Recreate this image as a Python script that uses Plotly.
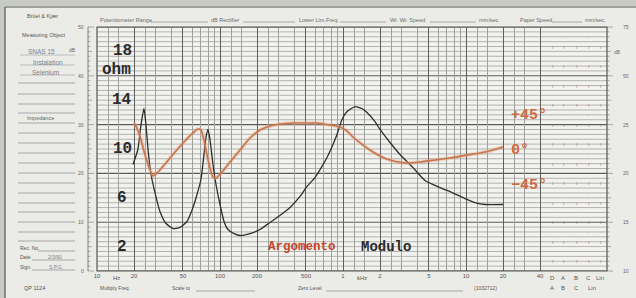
import plotly.graph_objects as go

# ---------------- data ----------------
mod_freq = [19.6, 21.5, 22.8, 24.1, 25.0, 26.0, 27.5, 29.6, 32.5, 36.4, 41.5, 47.3, 53.9, 60.3,
            65.0, 70.0, 74.1, 76.9, 79.9, 82.9, 87.7, 92.8, 100, 107.8, 116.2, 130, 145.4, 175.4,
            211.5, 255, 307, 371, 447, 510, 592, 675, 741, 829, 894, 981, 1078, 1252, 1427, 1567,
            1821, 2000, 2411, 2907, 3639, 4642, 6146, 7694, 9815, 11837, 14272, 20000]
mod_ohm = [8.73, 9.96, 12.0, 13.32, 12.0, 9.96, 7.91, 6.43, 4.88, 3.89, 3.48, 3.57, 4.06, 5.20,
           6.27, 7.5, 9.55, 10.94, 11.6, 10.78, 8.73, 7.09, 5.45, 4.06, 3.40, 3.07, 2.91, 3.07,
           3.40, 3.98, 4.55, 5.20, 6.11, 6.93, 7.66, 8.57, 9.30, 10.37, 11.19, 12.42, 13.07, 13.48,
           13.32, 12.99, 12.25, 11.6, 10.53, 9.55, 8.57, 7.42, 6.84, 6.43, 5.94, 5.61, 5.45, 5.45]

arg_freq = [20, 21.1, 22.8, 24.6, 27.0, 28.5, 31.3, 35.7, 43.1, 51.9, 60.3, 66.2, 70.0, 74.1,
            78.4, 82.9, 87.7, 92.8, 103.8, 120.6, 145.4, 175.4, 211.5, 255, 307, 392, 491, 615,
            784, 945, 1078, 1206, 1454, 1754, 2075, 2411, 3192, 4227, 5598, 7412, 10383, 14272, 20000]
arg_deg = [34.7, 28.3, 12.9, -6.4, -25.7, -33.4, -28.3, -18.0, -2.6, 11.6, 21.9, 27.0, 25.7, 12.9,
           -6.4, -23.1, -34.7, -36.0, -28.3, -15.4, 0, 15.4, 25.7, 30.9, 33.4, 34.7, 34.7, 34.7,
           32.1, 29.6, 24.4, 16.7, 6.4, -2.6, -9.0, -12.9, -16.7, -15.4, -12.9, -10.3, -6.4, -2.6, 3.9]

major_freqs = [10, 20, 50, 100, 200, 500, 1000, 2000, 5000, 10000, 20000, 40000]
major_text = ["10", "20", "50", "100", "200", "500", "1", "2", "5", "10", "20", "40"]
minor_freqs = [12.5, 15, 25, 30, 40, 60, 70, 80, 90,
               125, 150, 250, 300, 400, 600, 700, 800, 900,
               1250, 1500, 2500, 3000, 4000, 6000, 7000, 8000, 9000,
               12500, 15000, 25000, 30000]
ohm_labels = [18, 14, 10, 6, 2]
phase_labels = [45, 0, -45]
phase_text = ["+45°", "0°", "−45°"]
ohm_major = [0, 4, 8, 12, 16, 20]
ohm_minor_step = 0.4

# ---------------- geometry (pixels) ----------------
W, H = 636, 298
L, R, T, B = 97, 607, 27, 271
X_MAX_LOG = 1 + (R - L) / 123.0  # log10 frequency at right border
PH_TOP = (150 - T) * 45 / 35.0
PH_BOT = (150 - B) * 45 / 35.0


def px(x):
    return (x - L) / (R - L)


def py(y):
    return (B - y) / (B - T)


ORANGE = "#c8744c"
RED = "#c4452c"
INK = "#2b2b2b"

fig = go.Figure()

fig.add_trace(go.Scatter(x=arg_freq, y=arg_deg, xaxis="x", yaxis="y2", mode="lines",
                         line=dict(color="rgba(225,165,130,0.35)", width=4, shape="spline", smoothing=0.6),
                         hoverinfo="skip", showlegend=False))
fig.add_trace(go.Scatter(x=arg_freq, y=arg_deg, xaxis="x", yaxis="y2", mode="lines",
                         line=dict(color=ORANGE, width=1.6, shape="spline", smoothing=0.6),
                         name="Argomento", showlegend=False))
fig.add_trace(go.Scatter(x=mod_freq, y=mod_ohm, xaxis="x", yaxis="y", mode="lines",
                         line=dict(color="#2e2e2e", width=1.3, shape="spline", smoothing=0.5),
                         name="Modulo", showlegend=False))
fig.add_trace(go.Scatter(x=[], y=[], xaxis="x2", yaxis="y", mode="lines", showlegend=False,
                         hoverinfo="skip"))

fig.update_layout(
    width=W, height=H,
    margin=dict(l=L, r=W - R, t=T, b=H - B, autoexpand=False),
    paper_bgcolor="#ebece8",
    plot_bgcolor="#f2f2ef",
    xaxis=dict(type="log", range=[1, X_MAX_LOG], tickvals=minor_freqs, showticklabels=False,
               showgrid=True, gridcolor="#a0a19e", gridwidth=0.8, zeroline=False, ticks="",
               showline=False, anchor="y"),
    yaxis=dict(range=[0, 20], showticklabels=False, showgrid=False, zeroline=False, ticks="",
               showline=False, anchor="x"),
    yaxis2=dict(range=[PH_BOT, PH_TOP], overlaying="y", anchor="x", visible=False, showgrid=False),
    xaxis2=dict(type="log", range=[1, X_MAX_LOG], overlaying="x", anchor="y", side="bottom",
                tickvals=major_freqs, ticktext=major_text, showgrid=True, gridcolor="#5f5f5f",
                gridwidth=1.1, ticks="", zeroline=False,
                tickfont=dict(family="Liberation Sans", size=6, color="#555")),
)

ann = []
shapes = []

# horizontal chart-paper grid, in ohm units (one shape per line)
k = 0
while k * ohm_minor_step <= 20.001:
    v = round(k * ohm_minor_step, 3)
    if k % 10 != 0:
        shapes.append(dict(type="line", xref="paper", yref="y", x0=0, x1=1, y0=v, y1=v,
                           layer="below", line=dict(color="#a2a3a0", width=0.8)))
    k += 1
for v in ohm_major:
    shapes.append(dict(type="line", xref="paper", yref="y", x0=0, x1=1, y0=v, y1=v,
                       layer="below", line=dict(color="#5c5c5c", width=1.1)))
shapes.append(dict(type="rect", xref="paper", yref="paper", x0=0, x1=1, y0=0, y1=1,
                   line=dict(color="#555", width=1.2)))


def txt(x, y, s, size=5.5, color="#6a6a6a", xanchor="center", family="Liberation Sans"):
    ann.append(dict(x=px(x), y=py(y), xref="paper", yref="paper", text=s, showarrow=False,
                    xanchor=xanchor, yanchor="middle",
                    font=dict(family=family, size=size, color=color)))


def hline(x0, x1, y, color="#8a8a8a", w=0.7):
    shapes.append(dict(type="line", xref="paper", yref="paper", x0=px(x0), x1=px(x1),
                       y0=py(y), y1=py(y), line=dict(color=color, width=w)))


def vline(x, y0, y1, color="#555", w=1):
    shapes.append(dict(type="line", xref="paper", yref="paper", x0=px(x), x1=px(x),
                       y0=py(y0), y1=py(y1), line=dict(color=color, width=w)))


# outer scan margins
shapes.append(dict(type="rect", xref="paper", yref="paper", x0=px(0), x1=px(W), y0=py(6),
                   y1=py(0), fillcolor="#c8ccc5", line=dict(width=0), layer="below"))
shapes.append(dict(type="rect", xref="paper", yref="paper", x0=px(0), x1=px(5), y0=py(H),
                   y1=py(0), fillcolor="#c8ccc5", line=dict(width=0), layer="below"))
hline(5, W, 7, color="#555", w=1.2)
vline(5, 7, H, color="#555", w=1.2)

# ohm labels
for v in ohm_labels:
    ann.append(dict(x=px(122), y=v, xref="paper", yref="y", text=f"<b>{v}</b>", showarrow=False,
                    xanchor="center", yanchor="middle",
                    font=dict(family="Liberation Mono", size=16, color=INK)))
ann.append(dict(x=px(116), y=16.5, xref="paper", yref="y", text="<b>ohm</b>", showarrow=False,
                xanchor="center", yanchor="middle",
                font=dict(family="Liberation Mono", size=16, color=INK)))

# phase labels
for v, s in zip(phase_labels, phase_text):
    ann.append(dict(x=px(509), y=v, xref="paper", yref="y2", text=f"<b>{s}</b>", showarrow=False,
                    xanchor="left", yanchor="middle",
                    font=dict(family="Liberation Mono", size=15, color="#cf6a40")))

# legend words
ann.append(dict(x=px(302), y=2.0, xref="paper", yref="y", text="<b>Argomento</b>", showarrow=False,
                xanchor="center", yanchor="middle",
                font=dict(family="Liberation Mono", size=12.5, color=RED)))
ann.append(dict(x=px(386), y=2.0, xref="paper", yref="y", text="<b>Modulo</b>", showarrow=False,
                xanchor="center", yanchor="middle",
                font=dict(family="Liberation Mono", size=14, color=INK)))

# frequency unit labels
txt(116, 278, "Hz", size=6, color="#555")
txt(362, 278, "kHz", size=6, color="#555")
for xx, s in zip([552, 563, 576, 588, 600], ["D", "A", "B", "C", "Lin"]):
    txt(xx, 278, s, size=6, color="#555")
for xx, s in zip([552, 563, 576, 592], ["A", "B", "C", "Lin"]):
    txt(xx, 288, s, size=6, color="#555")

# header
txt(98, 20, "Potentiometer Range", xanchor="left")
hline(150, 208, 22)
txt(209, 20, "dB Rectifier", xanchor="left")
hline(243, 295, 22)
txt(297, 20, "Lower Lim.Freq.", xanchor="left")
hline(340, 386, 22)
txt(388, 20, "Wr. Wr. Speed", xanchor="left")
hline(430, 476, 22)
txt(477, 20, "mm/sec.", xanchor="left")
txt(518, 20, "Paper Speed", xanchor="left")
hline(552, 582, 22)
txt(583, 20, "mm/sec.", xanchor="left")

# left panel
txt(42, 16, "Brüel &amp; Kjær", size=5.5, color="#555")
txt(44, 35, "Measuring Object", size=5.5, color="#555")
txt(41, 52, "SNAS 15", size=6.5, color="#7c828a")
txt(48, 62, "Instalation", size=6.5, color="#7c828a")
txt(45, 72, "Selenium", size=6.5, color="#7c828a")
for yy in [55, 65, 75]:
    hline(20, 75, yy, color="#9aa0a6", w=0.6)
for yy in [83, 94, 104, 113, 133, 143, 153, 163, 173, 183, 193, 203, 212, 222, 232, 241]:
    hline(18, 75, yy)
txt(40, 118, "Impedance", size=5.5, color="#666")
hline(18, 75, 123)
txt(18, 248, "Rec. No.", size=5, color="#555", xanchor="left")
hline(38, 75, 251)
txt(18, 257, "Date", size=5, color="#555", xanchor="left")
txt(55, 257, "2/3/90", size=5, color="#7c828a")
hline(32, 75, 260)
txt(18, 267, "Sign.", size=5, color="#555", xanchor="left")
txt(56, 267, "S.P.G.", size=5, color="#7c828a")
hline(32, 75, 270)

# bottom row
txt(22, 288, "QP 1124", size=5.5, color="#555", xanchor="left")
txt(98, 288, "Multiply Freq.", size=5, color="#555", xanchor="left")
txt(170, 288, "Scale to", size=5, color="#555", xanchor="left")
hline(196, 255, 291)
txt(296, 288, "Zero Level", size=5, color="#555", xanchor="left")
hline(326, 463, 291)
txt(472, 288, "(1032712)", size=5, color="#555", xanchor="left")

# left dB scale
vline(88, T, B, color="#666", w=0.8)
path = ""
for i in range(51):
    yy = T + i * (B - T) / 50.0
    ln = 6 if i % 10 == 0 else (4 if i % 5 == 0 else 2.5)
    path += f"M{px(88)},{py(yy)} L{px(88 + ln)},{py(yy)} "
shapes.append(dict(type="path", xref="paper", yref="paper", path=path,
                   line=dict(color="#777", width=0.6)))
for i, s in enumerate(["50", "40", "30", "20", "10", "0"]):
    txt(86, T + i * 48.8, s, size=5, color="#666", xanchor="right")
txt(78, 50, "dB", size=5, color="#666", xanchor="right")

# right scale
path = ""
for i in range(51):
    yy = T + i * (B - T) / 50.0
    ln = 6 if i % 10 == 0 else (4 if i % 5 == 0 else 2.5)
    path += f"M{px(R)},{py(yy)} L{px(R + ln)},{py(yy)} "
shapes.append(dict(type="path", xref="paper", yref="paper", path=path,
                   line=dict(color="#777", width=0.6)))
for i, s in enumerate(["75", "50", "25", "20", "15", "10"]):
    txt(626, T + i * 48.8, s, size=5, color="#666")
txt(617, 52, "dB", size=5, color="#666")

# little marks in the A B C Lin columns
for i in range(1, 25):
    yy = T + i * 9.76
    for xx in [552, 563, 576, 588, 600]:
        txt(xx, yy, "·" if i % 2 else "ı", size=5, color="#777")

fig.update_layout(annotations=ann, shapes=shapes)
fig.write_html("out.html", config={"displayModeBar": False},
               post_script="document.body.style.margin='0';document.body.style.overflow='hidden';")
